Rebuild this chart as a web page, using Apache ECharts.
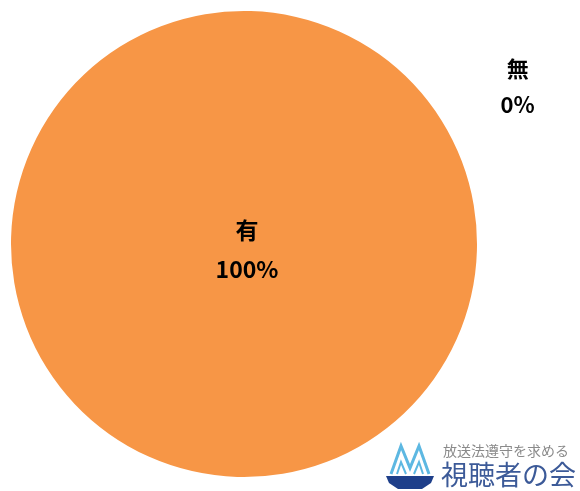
<!DOCTYPE html>
<html><head><meta charset="utf-8">
<script src="https://cdn.jsdelivr.net/npm/echarts@6/dist/echarts.min.js"></script>
<style>html,body{margin:0;padding:0;background:#fff}#c{width:580px;height:491px}</style>
</head><body><div id="c"></div>
<script>
const categories = ['有', '無'];
const values = [100, 0];
const percentLabels = ['100%', '0%'];

const chart = echarts.init(document.getElementById('c'));
const font = '"Noto Sans CJK JP", "Noto Sans", sans-serif';
chart.setOption({
  animation: false,
  series: [{
    type: 'pie',
    center: [244, 244],
    radius: 233,
    startAngle: 32.1,
    avoidLabelOverlap: false,
    minShowLabelAngle: 0,
    stillShowZeroSum: true,
    itemStyle: { borderWidth: 0 },
    data: categories.map((c, i) => ({
      name: c,
      value: values[i],
      itemStyle: { color: i === 0 ? '#F79646' : '#4F81BD' },
      label: i === 0 ? {
        show: true, position: 'center', padding: [12, 0, 0, 6],
        formatter: '{a|{b}}\n{a|' + percentLabels[i] + '}',
        rich: { a: { fontSize: 23, fontWeight: 'bold', color: '#000', fontFamily: font, lineHeight: 39, align: 'center' } }
      } : {
        show: true, position: 'outside',
        formatter: '{a|{b}}\n{a|' + percentLabels[i] + '}',
        rich: { a: { fontSize: 22, fontWeight: 'bold', color: '#000', fontFamily: font, lineHeight: 36, align: 'center' } }
      },
      labelLine: { show: false, length: 64, length2: 0 }
    }))
  }],
  graphic: [
    { type: 'polyline', shape: { points: [[391,474],[401,446],[410,468],[419,446],[429,474]] }, style: { stroke: '#5DB8E2', lineWidth: 3, fill: null } },
    { type: 'polyline', shape: { points: [[397,474],[401,462],[406,474]] }, style: { stroke: '#5DB8E2', lineWidth: 2, fill: null } },
    { type: 'polyline', shape: { points: [[414,474],[419,462],[423,474]] }, style: { stroke: '#5DB8E2', lineWidth: 2, fill: null } },
    { type: 'polygon', shape: { points: [[386,476],[434,476],[431,483],[422,489],[398,489],[389,483]] }, style: { fill: '#1E3F8A' } },
    { type: 'text', left: 443, top: 444, style: { text: '放送法遵守を求める', fontSize: 14, fill: '#8A8A8A', fontFamily: font } },
    { type: 'text', left: 441, top: 461, style: { text: '視聴者の会', fontSize: 27, fill: '#3C5A98', fontFamily: font } }
  ]
});
</script></body></html>
